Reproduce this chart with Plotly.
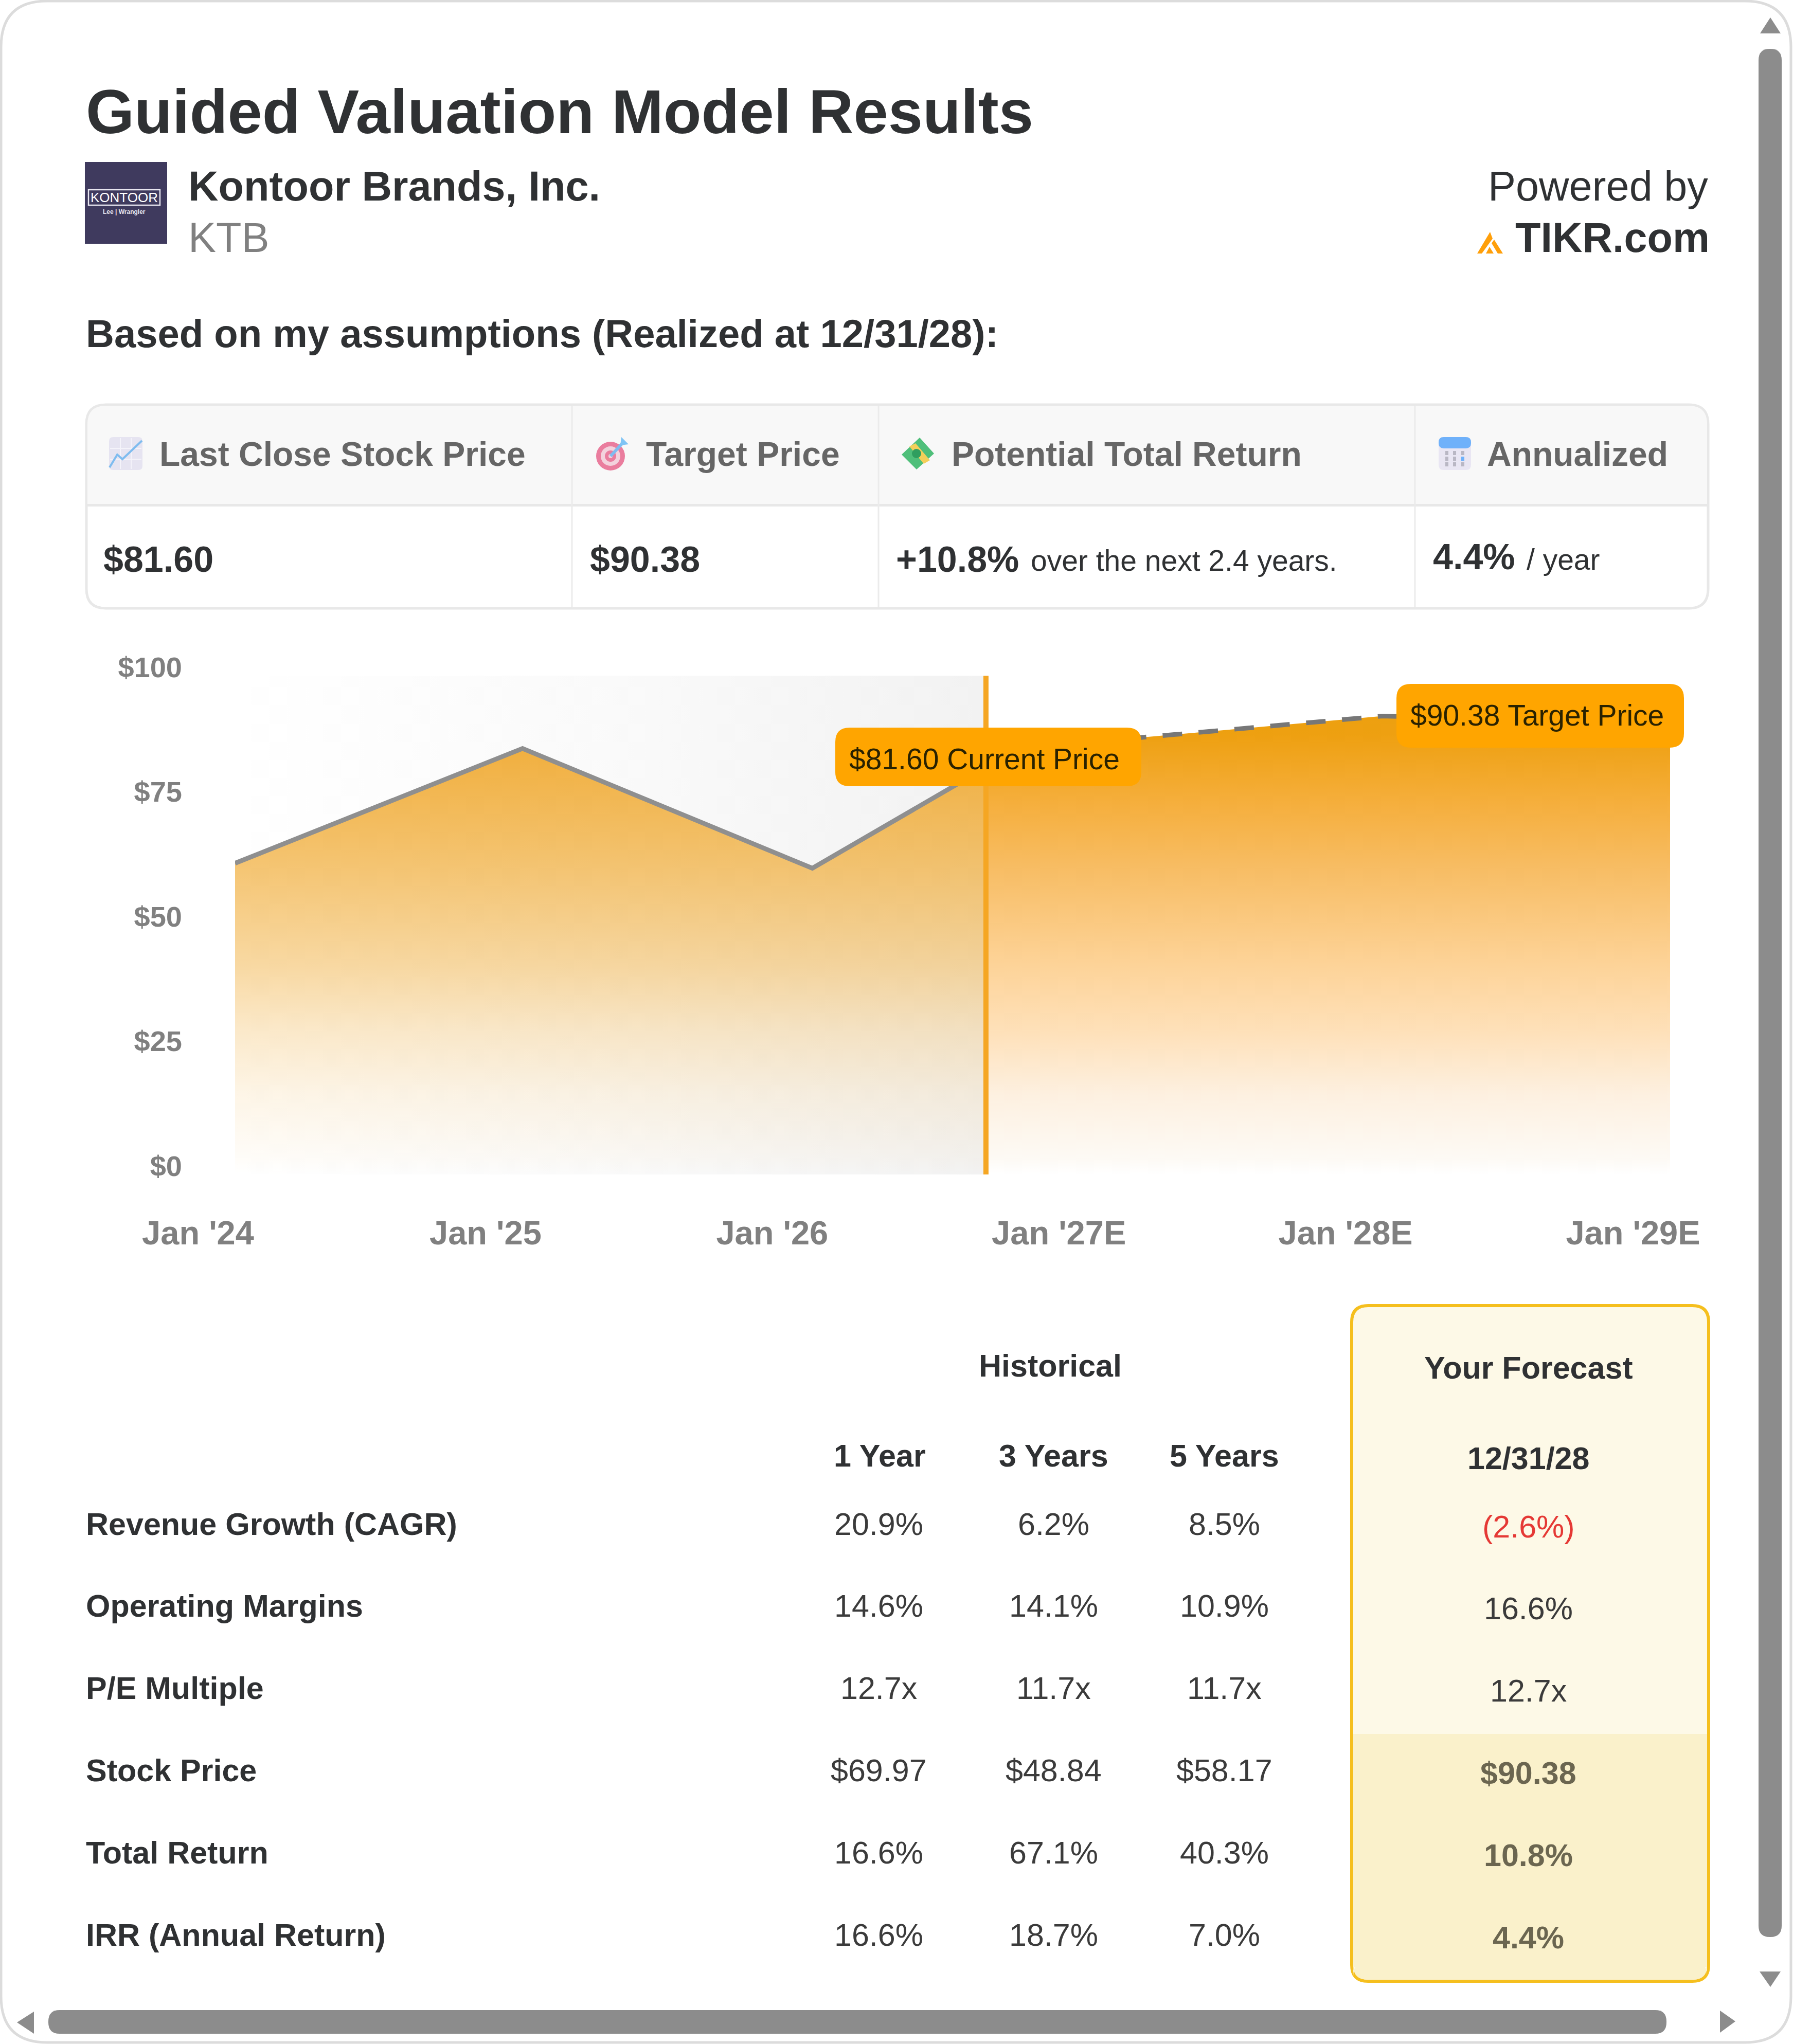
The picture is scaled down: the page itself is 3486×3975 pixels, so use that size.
import plotly.graph_objects as go

W = 3486
H = 3975
FONT = "Liberation Sans"

# chart values
hist_dates = ["2024-01-01", "2025-01-01", "2026-01-05", "2026-08-14"]
hist_prices = [62.4, 85.4, 61.4, 81.6]
fc_dates = ["2026-08-14", "2027-01-01", "2028-01-01", "2029-01-01"]
fc_prices = [81.6, 86.8, 91.9, 90.38]
bg_dates = ["2024-01-01", "2026-08-14"]
bg_tops = [100, 100]
tick_dates = ["2024-01-01", "2025-01-01", "2026-01-01", "2027-01-01", "2028-01-01", "2029-01-01"]
tick_labels = ["Jan '24", "Jan '25", "Jan '26", "Jan '27E", "Jan '28E", "Jan '29E"]
y_ticks = [0, 25, 50, 75, 100]
y_labels = ["$0", "$25", "$50", "$75", "$100"]

# summary strip
head_labels = ["Last Close Stock Price", "Target Price", "Potential Total Return", "Annualized"]
last_close = "$81.60"
target_price = "$90.38"
total_return = "+10.8%"
annualized = "4.4%"

# table below the chart
row_names = ["Revenue Growth (CAGR)", "Operating Margins", "P/E Multiple", "Stock Price", "Total Return", "IRR (Annual Return)"]
year_1 = ["20.9%", "14.6%", "12.7x", "$69.97", "16.6%", "16.6%"]
year_3 = ["6.2%", "14.1%", "11.7x", "$48.84", "67.1%", "18.7%"]
year_5 = ["8.5%", "10.9%", "11.7x", "$58.17", "40.3%", "7.0%"]
forecast = ["(2.6%)", "16.6%", "12.7x", "$90.38", "10.8%", "4.4%"]


def fx(x):
    return x / W


def fy(y):
    return 1 - y / H


shapes = []
notes = []


def txt(x, y, text, size, color="#2f3133", anchor="left", bold=False):
    if bold:
        text = "<b>" + text + "</b>"
    # page text sits a touch up and left of the plain centre
    notes.append(dict(x=fx(x - 1.5), y=fy(y - 2.5), xref="paper", yref="paper", text=text, showarrow=False,
                      xanchor=anchor, yanchor="middle", borderpad=0,
                      font=dict(family=FONT, size=size, color=color)))


def poly(points, fill, close=True, line=None, width=0):
    path = "M " + " L ".join("%.5f,%.5f" % (fx(p[0]), fy(p[1])) for p in points)
    if close:
        path += " Z"
    shapes.append(dict(type="path", path=path, xref="paper", yref="paper", layer="above",
                       fillcolor=fill, line=dict(color=line or "rgba(0,0,0,0)", width=width)))


# rounded box in page pixels
def rbox(x0, y0, x1, y1, r, fill, line=None, width=0):
    pts = "M %.5f,%.5f" % (fx(x0 + r), fy(y0))
    pts += " L %.5f,%.5f Q %.5f,%.5f %.5f,%.5f" % (fx(x1 - r), fy(y0), fx(x1), fy(y0), fx(x1), fy(y0 + r))
    pts += " L %.5f,%.5f Q %.5f,%.5f %.5f,%.5f" % (fx(x1), fy(y1 - r), fx(x1), fy(y1), fx(x1 - r), fy(y1))
    pts += " L %.5f,%.5f Q %.5f,%.5f %.5f,%.5f" % (fx(x0 + r), fy(y1), fx(x0), fy(y1), fx(x0), fy(y1 - r))
    pts += " L %.5f,%.5f Q %.5f,%.5f %.5f,%.5f Z" % (fx(x0), fy(y0 + r), fx(x0), fy(y0), fx(x0 + r), fy(y0))
    shapes.append(dict(type="path", path=pts, xref="paper", yref="paper", layer="above",
                       fillcolor=fill, line=dict(color=line or "rgba(0,0,0,0)", width=width)))


def circle(cx, cy, rx, ry, fill):
    shapes.append(dict(type="circle", xref="paper", yref="paper", layer="above", fillcolor=fill,
                       x0=fx(cx - rx), x1=fx(cx + rx), y0=fy(cy + ry), y1=fy(cy - ry), line=dict(width=0)))


fig = go.Figure()

# grey band behind the history part
fig.add_trace(go.Scatter(x=bg_dates, y=bg_tops, mode="none", fill="tozeroy",
                         fillgradient=dict(type="horizontal",
                                           colorscale=[[0, "#ffffff"], [0.5, "#fafafa"], [0.75, "#f6f6f6"], [1, "#f2f2f2"]])))
# forecast area
fig.add_trace(go.Scatter(x=fc_dates, y=fc_prices, mode="none", fill="tozeroy",
                         fillgradient=dict(type="vertical", start=0, stop=92,
                                           colorscale=[[0, "#ffffff"], [0.033, "#fdfaf5"], [0.174, "#fdf0e0"], [0.315, "#fee0b8"],
                                                       [0.457, "#fdd398"], [0.674, "#f7bc62"], [0.815, "#f5ae3b"],
                                                       [0.957, "#eea011"], [1, "#eda010"]])))
# history area
fig.add_trace(go.Scatter(x=hist_dates, y=hist_prices, mode="none", fill="tozeroy",
                         fillgradient=dict(type="vertical", start=0, stop=85,
                                           colorscale=[[0, "rgba(240,170,50,0)"], [0.035, "rgba(240,170,50,0.03)"],
                                                       [0.19, "rgba(240,170,50,0.12)"], [0.34, "rgba(240,170,50,0.26)"],
                                                       [0.49, "rgba(240,170,50,0.45)"], [0.73, "rgba(240,170,50,0.69)"],
                                                       [1, "rgba(240,170,50,0.93)"]])))
fig.add_trace(go.Scatter(x=fc_dates, y=fc_prices, mode="lines",
                         line=dict(color="#777777", width=9, dash="38px,32px")))
fig.add_trace(go.Scatter(x=hist_dates, y=hist_prices, mode="lines",
                         line=dict(color="#8f8f8f", width=9)))
# today marker
fig.add_trace(go.Scatter(x=[hist_dates[-1], hist_dates[-1]], y=[y_ticks[0], y_ticks[-1]], mode="lines",
                         line=dict(color="#f5a623", width=10)))

# card outline and scrollbars
rbox(2, 2, 3482, 3972, 90, "rgba(0,0,0,0)", "#dcdcdc", 5)
poly([(3442, 34), (3462, 65), (3422, 65)], "#8c8c8c")
rbox(3419, 95, 3464, 3767, 22, "#8c8c8c")
poly([(3421, 3834), (3462, 3834), (3442, 3864)], "#8c8c8c")
poly([(66, 3912), (66, 3955), (33, 3933)], "#8c8c8c")
rbox(94, 3909, 3240, 3955, 22, "#8c8c8c")
poly([(3344, 3910), (3344, 3953), (3374, 3931)], "#8c8c8c")

# heading
txt(167, 220, "Guided Valuation Model Results", 121, bold=True)
rbox(165, 315, 325, 474, 0, "#3f3a5e")
rbox(172, 369, 311, 399, 0, "rgba(0,0,0,0)", "#e8e6f0", 2.5)
txt(243, 386, "KONTOOR", 26, "#ffffff", "center")
txt(243, 415, "Lee | Wrangler", 12, "#e8e6f0", "center", True)
txt(366, 364, "Kontoor Brands, Inc.", 81, bold=True)
txt(366, 464, "KTB", 81, "#808080")
txt(3323, 364, "Powered by", 81, anchor="right")
txt(3326, 464, "TIKR.com", 81, anchor="right", bold=True)
poly([(2872, 493), (2897, 451), (2902, 464), (2881, 493)], "#ff9f0a")
poly([(2905, 466), (2922, 493), (2912, 493), (2900, 473)], "#ff9f0a")
poly([(2889, 493), (2896, 480), (2904, 493)], "#ff9f0a")
txt(167, 651, "Based on my assumptions (Realized at 12/31/28):", 76, bold=True)

# summary strip
rbox(168, 787, 3321, 1183, 38, "#ffffff", "#e8e8e8", 5)
head = "M %.5f,%.5f" % (fx(170), fy(982))
head += " L %.5f,%.5f Q %.5f,%.5f %.5f,%.5f" % (fx(170), fy(825), fx(170), fy(789), fx(206), fy(789))
head += " L %.5f,%.5f Q %.5f,%.5f %.5f,%.5f" % (fx(3283), fy(789), fx(3319), fy(789), fx(3319), fy(825))
head += " L %.5f,%.5f Z" % (fx(3319), fy(982))
shapes.append(dict(type="path", path=head, xref="paper", yref="paper", layer="above",
                   fillcolor="#f8f8f8", line=dict(width=0)))
rbox(168, 980, 3321, 985, 0, "#e8e8e8")
for cell_x in [1112, 1708, 2751]:
    rbox(cell_x - 1.5, 789, cell_x + 1.5, 1181, 0, "#ebebeb")
for lab, lab_x in zip(head_labels, [310, 1256, 1850, 2891]):
    txt(lab_x, 885, lab, 66, "#666666", bold=True)
txt(201, 1090, last_close, 70, bold=True)
txt(1147, 1090, target_price, 70, bold=True)
txt(1742, 1090, total_return, 70, bold=True)
txt(2004, 1093, "over the next 2.4 years.", 57)
txt(2786, 1085, annualized, 70, bold=True)
txt(2968, 1090, "/ year", 57)

# chart icon
rbox(212, 850, 277, 914, 8, "#e6e4f1")
for gx in [234, 255]:
    rbox(gx - 1, 852, gx + 1, 912, 0, "#f4f3fa")
for gy in [872, 893]:
    rbox(214, gy - 1, 275, gy + 1, 0, "#f4f3fa")
poly([(213, 909), (228, 884), (238, 893), (276, 857)], "rgba(0,0,0,0)", False, "#7fbcef", 4)
# target icon
circle(1187, 887, 28, 28, "#ea7d9e")
circle(1187, 887, 19, 19, "#f3d2dd")
circle(1187, 887, 11, 11, "#ea7d9e")
circle(1187, 887, 4, 4, "#f3d2dd")
poly([(1187, 887), (1212, 860)], "rgba(0,0,0,0)", False, "#7fbcef", 6)
poly([(1206, 866), (1208, 850), (1222, 864)], "#7fc4f5")
# money icon
poly([(1753, 884), (1788, 851), (1816, 882), (1782, 913)], "#4fbf7a")
poly([(1768, 868), (1780, 862), (1808, 895), (1796, 902)], "#f4cf5a")
circle(1782, 882, 9, 9, "#2f9e5f")
# calendar icon
rbox(2797, 850, 2860, 914, 10, "#e9e6f3")
rbox(2797, 850, 2860, 872, 10, "#6fb1fa")
for dot_y in [881, 892, 903]:
    for dot_x in [2813, 2828, 2844]:
        color = "#6fb1fa" if (dot_x == 2844 and dot_y == 892) else "#b9b7c4"
        rbox(dot_x - 3, dot_y - 4, dot_x + 3, dot_y + 4, 0, color)

# price tags
rbox(1624, 1415, 2219, 1529, 28, "#ffa500")
txt(1916, 1478, "$81.60 Current Price", 57, "#2a2200", "center")
rbox(2715, 1330, 3274, 1454, 28, "#ffa500")
txt(2990, 1393, "$90.38 Target Price", 57, "#2a2200", "center")

# table
rbox(2628, 2539, 3322, 3853, 32, "#fdf9e7", "#f5bf1e", 6)
rbox(2631, 3372, 3319, 3825, 0, "#faf1cb")
rbox(2631, 3815, 3319, 3850, 28, "#faf1cb")
txt(2043, 2658, "Historical", 61, anchor="center", bold=True)
txt(2973, 2662, "Your Forecast", 61, anchor="center", bold=True)
txt(1712, 2833, "1 Year", 61, anchor="center", bold=True)
txt(2050, 2833, "3 Years", 61, anchor="center", bold=True)
txt(2382, 2833, "5 Years", 61, anchor="center", bold=True)
txt(2973, 2838, "12/31/28", 61, anchor="center", bold=True)
for i in range(len(row_names)):
    row_y = 2968 - 2 + i * 159.8
    txt(167, row_y, row_names[i], 61, bold=True)
    txt(1710, row_y, year_1[i], 61, "#3b3b3b", "center")
    txt(2050, row_y, year_3[i], 61, "#3b3b3b", "center")
    txt(2382, row_y, year_5[i], 61, "#3b3b3b", "center")
    if i == 0:
        txt(2973, row_y + 5, forecast[i], 61, "#e53935", "center")
    elif i < 3:
        txt(2973, row_y + 5, forecast[i], 61, "#3b3b3b", "center")
    else:
        txt(2973, row_y + 5, forecast[i], 61, "#6b6650", "center", True)

fig.update_layout(
    width=W, height=H, margin=dict(l=0, r=0, t=0, b=0, autoexpand=False), autosize=False,
    paper_bgcolor="#ffffff", plot_bgcolor="rgba(0,0,0,0)", showlegend=False,
    shapes=shapes, annotations=notes, hovermode=False,
    xaxis=dict(type="date", domain=[fx(457), fx(3247)], range=["2024-01-01", "2029-01-01"],
               tickvals=tick_dates, ticktext=tick_labels, showgrid=False, zeroline=False, showline=False,
               ticks="", ticklabelstandoff=70, ticklabelshift=-72,
               tickfont=dict(family=FONT, size=65, color="#808080", weight="bold")),
    yaxis=dict(domain=[fy(2284), fy(1314)], range=[0, 100], tickvals=y_ticks, ticktext=y_labels,
               showgrid=False, zeroline=False, showline=False, ticks="",
               ticklabelstandoff=102, ticklabelshift=-17,
               tickfont=dict(family=FONT, size=56, color="#808080", weight="bold")),
)

fig.write_html("out.html", config=dict(displayModeBar=False), post_script="document.body.style.margin='0';")
